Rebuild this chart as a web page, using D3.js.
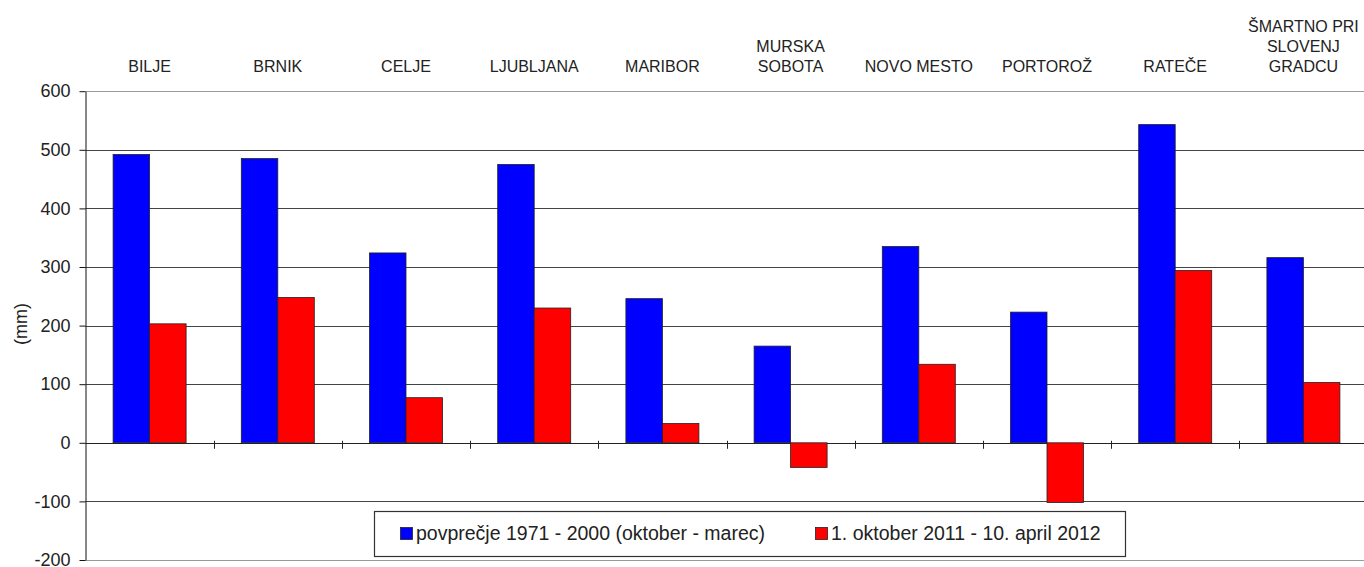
<!DOCTYPE html>
<html>
<head>
<meta charset="utf-8">
<script src="https://cdn.jsdelivr.net/npm/d3@7"></script>
<style>
    body { margin: 0; background: #fff; }
    text { font-family: "Liberation Sans", Arial, sans-serif; fill: #222; }
</style>
</head>
<body>
<div id="chart"></div>
<script>
var width = 1364;
var height = 567;

// stations, "\n" marks a line break in the label
var stations = ["BILJE", "BRNIK", "CELJE", "LJUBLJANA", "MARIBOR", "MURSKA\nSOBOTA",
    "NOVO MESTO", "PORTOROŽ", "RATEČE", "ŠMARTNO PRI\nSLOVENJ\nGRADCU"];
var average7100 = [492, 485, 324, 475, 246, 165, 335, 223, 543, 316];
var season1112 = [203, 248, 77, 230, 33, -42, 134, -102, 294, 103];
var yTicks = [-200, -100, 0, 100, 200, 300, 400, 500, 600];
var seriesNames = ["povprečje 1971 - 2000 (oktober - marec)", "1. oktober 2011 - 10. april 2012"];
var seriesColors = ["#0000ff", "#ff0000"];

var left = 85.5;
var step = 128.2;

var svg = d3.select("#chart")
    .append("svg")
    .attr("width", width)
    .attr("height", height);

var x = d3.scaleBand()
    .domain(stations)
    .range([left, left + step * stations.length]);

var xSub = d3.scaleBand()
    .domain([0, 1])
    .range([0, x.bandwidth()])
    .paddingOuter(0.756);

var y = d3.scaleLinear()
    .domain([-200, 600])
    .range([560, 91.2]);

// gridlines (top and bottom are the lighter plot border)
svg.append("g")
    .selectAll("line")
    .data(yTicks)
    .enter()
    .append("line")
        .attr("x1", left)
        .attr("x2", width)
        .attr("y1", d => Math.round(y(d)) + 0.5)
        .attr("y2", d => Math.round(y(d)) + 0.5)
        .style("stroke", d => (d == 600 || d == -200) ? "#9a9a9a" : (d == 0 ? "#222" : "#444"))
        .style("stroke-width", 1.2);

// bars
var rows = stations.map((s, i) => ({ station: s, values: [average7100[i], season1112[i]] }));

svg.append("g")
    .selectAll("g")
    .data(rows)
    .enter()
    .append("g")
        .attr("transform", d => "translate(" + x(d.station) + ",0)")
    .selectAll("rect")
    .data(d => d.values.map((v, k) => ({ k: k, v: v })))
    .enter()
    .append("rect")
        .attr("x", d => xSub(d.k))
        .attr("width", xSub.bandwidth())
        .attr("y", d => y(Math.max(0, d.v)))
        .attr("height", d => Math.abs(y(d.v) - y(0)))
        .style("fill", d => seriesColors[d.k])
        .style("stroke", "#222")
        .style("stroke-width", 0.8);

// category ticks on the zero line
svg.append("g")
    .selectAll("line")
    .data(stations.slice(1))
    .enter()
    .append("line")
        .attr("x1", d => Math.round(x(d)) + 0.5)
        .attr("x2", d => Math.round(x(d)) + 0.5)
        .attr("y1", y(0) - 2)
        .attr("y2", y(0) + 6)
        .style("stroke", "#222");

// y axis, plain hyphen for negatives like the original
var yAxis = svg.append("g")
    .attr("transform", "translate(" + left + ",0)")
    .call(d3.axisLeft(y)
        .tickValues(yTicks)
        .tickFormat(d => String(d))
        .tickSize(6)
        .tickSizeOuter(0)
        .tickPadding(9));

yAxis.select(".domain").style("stroke", "#111");
yAxis.selectAll(".tick line").style("stroke", "#111");
yAxis.selectAll(".tick text")
    .style("font-family", "'Liberation Sans', Arial, sans-serif")
    .style("font-size", "18px")
    .style("fill", "#222");

svg.append("text")
    .attr("transform", "translate(27,324) rotate(-90)")
    .attr("text-anchor", "middle")
    .style("font-size", "18px")
    .text("(mm)");

// station names above the plot, last line aligned on one baseline
var labels = svg.append("g")
    .selectAll("text")
    .data(stations)
    .enter()
    .append("text")
        .attr("text-anchor", "middle")
        .style("font-size", "16px");

labels.each(function(d) {
    var lines = d.split("\n");
    var cx = x(d) + x.bandwidth() / 2;
    d3.select(this).selectAll("tspan")
        .data(lines)
        .enter()
        .append("tspan")
            .attr("x", cx)
            .attr("y", (l, i) => 72 - (lines.length - 1 - i) * 20)
            .text(l => l);
});

// legend
var legend = svg.append("g");

legend.append("rect")
    .attr("x", 374.5)
    .attr("y", 511.5)
    .attr("width", 751)
    .attr("height", 45)
    .style("fill", "#fff")
    .style("stroke", "#333")
    .style("stroke-width", 1.2);

var legendX = [400, 815];

seriesNames.forEach(function(name, i) {
    legend.append("rect")
        .attr("x", legendX[i] + 0.5)
        .attr("y", 527.5)
        .attr("width", 12)
        .attr("height", 12)
        .style("fill", seriesColors[i])
        .style("stroke", "#222")
        .style("stroke-width", 0.8);
    legend.append("text")
        .attr("x", legendX[i] + 16)
        .attr("y", 540)
        .style("font-size", "19.5px")
        .text(name);
});
</script>
</body>
</html>
